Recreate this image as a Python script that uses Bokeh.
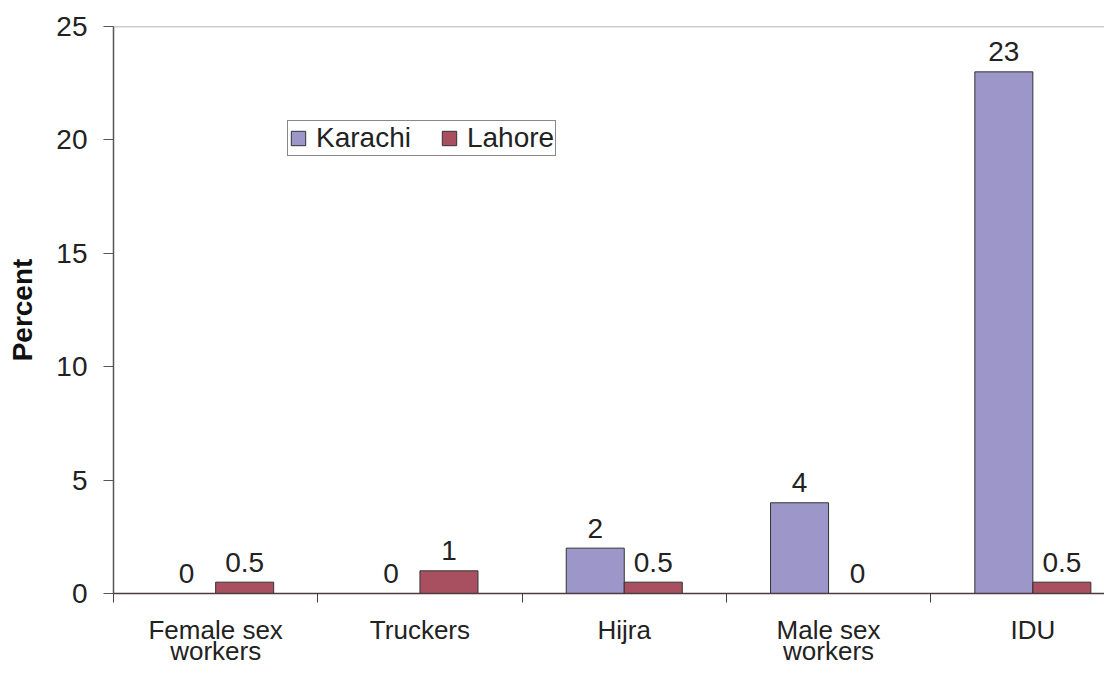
from bokeh.plotting import figure
from bokeh.layouts import column
from bokeh.models import (Range1d, FixedTicker, ColumnDataSource, Legend, LegendItem, Span)
from bokeh.embed import file_html
from bokeh.resources import INLINE
from bokeh.core.properties import value

categories = ["Female sex\nworkers", "Truckers", "Hijra", "Male sex\nworkers", "IDU"]
karachi = [0, 0, 2, 4, 23]
lahore = [0.5, 1, 0.5, 0, 0.5]
karachi_labels = ["0", "0", "2", "4", "23"]
lahore_labels = ["0.5", "1", "0.5", "0", "0.5"]
y_ticks = [0, 5, 10, 15, 20, 25]

FONT = "Liberation Sans"
FS = "28px"
KAR_COLOR = "#9C96C9"
LAH_COLOR = "#A8505F"
AXIS_COLOR = "#4d3b3f"

n = len(categories)
centers = [i + 0.5 for i in range(n)]
bw = 0.284
kar_x = [c - bw / 2 for c in centers]
lah_x = [c + bw / 2 for c in centers]

LEFT = 113
W = 1104
TOP_H = 609
BOT_H = 664 - TOP_H

p = figure(width=W, height=TOP_H, output_backend="svg", toolbar_location=None, title=None,
           x_range=Range1d(0, (W - LEFT) / 204.3), y_range=Range1d(0, 25),
           min_border_left=LEFT, min_border_right=0, min_border_top=26, min_border_bottom=TOP_H - 26 - 567)
p.outline_line_color = None
p.xgrid.visible = False
p.ygrid.visible = False

ks = ColumnDataSource(dict(x=kar_x, top=karachi, lab=karachi_labels))
ls = ColumnDataSource(dict(x=lah_x, top=lahore, lab=lahore_labels))

rk = p.vbar(x="x", top="top", bottom=0, width=bw, source=ks, fill_color=KAR_COLOR,
            line_color="#333333", line_width=1)
rl = p.vbar(x="x", top="top", bottom=0, width=bw, source=ls, fill_color=LAH_COLOR,
            line_color="#333333", line_width=1)

for src in (ks, ls):
    p.text(x="x", y="top", text="lab", source=src, text_align="center",
           text_baseline="alphabetic", y_offset=-20, text_font=value(FONT),
           text_font_size=FS, text_color="#222222")

p.add_layout(Span(location=25, dimension="width", line_color="#9a9a9a", line_width=1.5))

# x axis: only the category-boundary ticks; labels are drawn in the strip below
xa = p.xaxis[0]
xa.ticker = FixedTicker(ticks=[], minor_ticks=list(range(n + 1)))
xa.major_tick_out = 0
xa.major_tick_in = 0
xa.major_label_standoff = 0
xa.minor_tick_line_color = AXIS_COLOR
xa.minor_tick_out = 9
xa.minor_tick_in = 0
xa.axis_line_color = AXIS_COLOR
xa.axis_line_width = 1.5

# y axis
ya = p.yaxis[0]
ya.ticker = FixedTicker(ticks=y_ticks)
ya.minor_tick_line_color = None
ya.major_tick_out = 10
ya.major_tick_in = 0
ya.major_tick_line_color = "#555555"
ya.axis_line_color = "#555555"
ya.axis_line_width = 1.5
ya.major_label_text_font = FONT
ya.major_label_text_font_size = FS
ya.major_label_text_color = "#222222"
ya.major_label_standoff = 16
ya.axis_label = "Percent"
ya.axis_label_text_font = FONT
ya.axis_label_text_font_style = "bold"
ya.axis_label_text_font_size = FS
ya.axis_label_text_color = "#111111"
ya.axis_label_standoff = 15

legend = Legend(items=[LegendItem(label="Karachi", renderers=[rk]),
                       LegendItem(label="Lahore", renderers=[rl])],
                orientation="horizontal", location=(174, 437))
legend.label_text_font = FONT
legend.label_text_font_size = FS
legend.label_text_color = "#222222"
legend.glyph_width = 18
legend.glyph_height = 18
legend.label_standoff = 9
legend.spacing = 29
legend.padding = 1
legend.margin = 0
legend.border_line_color = "#111111"
legend.border_line_width = 1
legend.background_fill_alpha = 1
p.add_layout(legend)

# strip below the chart carrying the category labels (shares the x scale)
first = [c.split("\n")[0] for c in categories]
second = [c.split("\n")[1] if "\n" in c else "" for c in categories]
q = figure(width=W, height=BOT_H, output_backend="svg", toolbar_location=None, title=None,
           x_range=p.x_range, y_range=Range1d(0, BOT_H),
           min_border_left=LEFT, min_border_right=0, min_border_top=0, min_border_bottom=0,
           x_axis_location=None, y_axis_location=None)
q.outline_line_color = None
q.grid.visible = False
lsrc = ColumnDataSource(dict(x=centers, l1=first, l2=second))
q.text(x="x", y=35, text="l1", source=lsrc, text_align="center",
       text_baseline="alphabetic", text_font=value(FONT), text_font_size="26px",
       text_color="#222222")
q.text(x="x", y=14, text="l2", source=lsrc, text_align="center",
       text_baseline="alphabetic", text_font=value(FONT), text_font_size="26px",
       text_color="#222222")

layout = column(p, q, spacing=0)
open("out.html", "w").write(file_html(layout, INLINE))
